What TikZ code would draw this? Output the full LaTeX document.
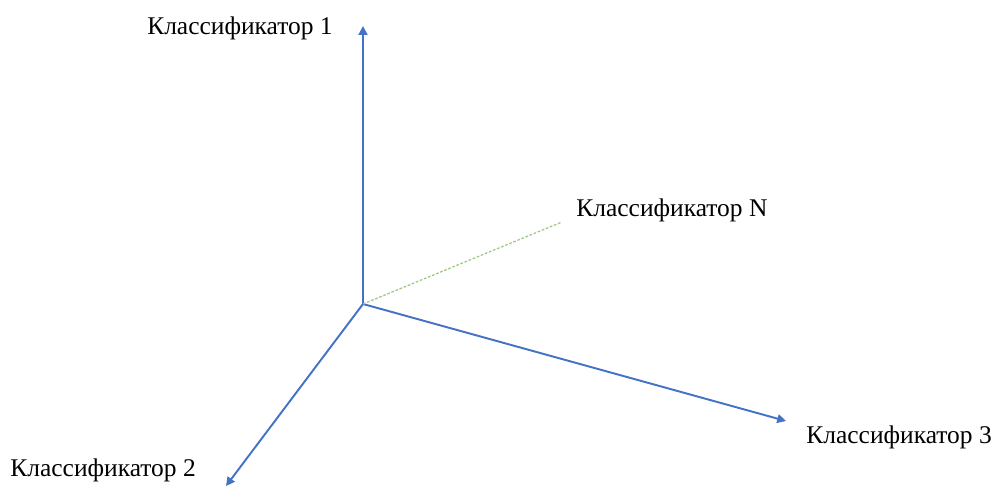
\documentclass[tikz,border=0pt]{standalone}
\usepackage{fontspec}
\setmainfont{Liberation Serif}
\usetikzlibrary{arrows.meta, positioning}
\definecolor{axisblue}{RGB}{68, 114, 196}
\definecolor{axisgreen}{RGB}{112, 173, 71}

\begin{document}
\begin{tikzpicture}[
    axis/.style={draw=axisblue, line width=1.1pt, -{Triangle[length=5pt, width=5pt]}},
    extra/.style={draw=axisgreen!70, line width=0.7pt, dash pattern=on 1.5pt off 1pt},
    lbl/.style={font=\fontsize{14.5}{17}\selectfont, inner sep=0pt}]
    \useasboundingbox (0,0) rectangle (20,9.76);

    \coordinate (o) at (7.26, 3.68);
    \coordinate (e1) at (7.26, 9.24);
    \coordinate (e2) at (4.52, 0.04);
    \coordinate (e3) at (15.72, 1.34);
    \coordinate (en) at (11.24, 5.32);

    \node[lbl] (c1) at (4.80, 9.2) {Классификатор 1};
    \node[lbl, anchor=west] (c2) at (0.2, 0.36) {Классификатор 2};
    \node[lbl, anchor=west] (c3) at (16.12, 1.02) {Классификатор 3};
    \node[lbl, anchor=west] (cn) at (11.52, 5.56) {Классификатор N};

    \draw[axis] (o) -- (e1);
    \draw[axis] (o) -- (e2);
    \draw[axis] (o) -- (e3);
    \draw[extra] (o) -- (en);
\end{tikzpicture}
\end{document}
